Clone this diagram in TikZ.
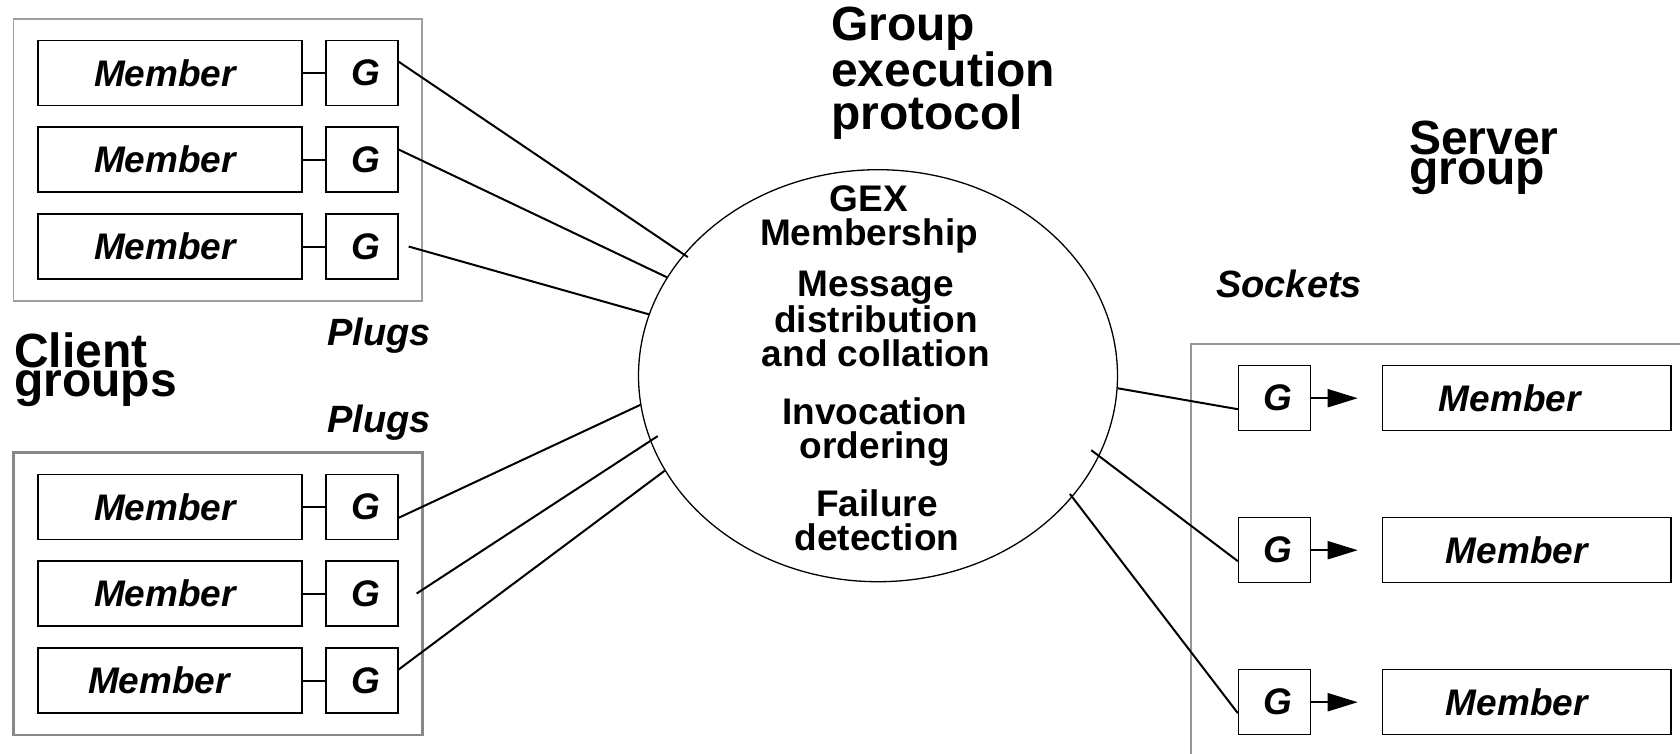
\documentclass[tikz,border=0pt]{standalone}
\usepackage{fontspec}
\setmainfont{Liberation Sans}
\usetikzlibrary{shapes.geometric,arrows.meta}

\tikzset{
  box/.style={draw, line width=1.3pt, inner sep=0pt, minimum height=65pt,
    font=\fontsize{37}{40}\selectfont\bfseries\itshape},
  member/.style={box, minimum width=264pt},
  gbox/.style={box, minimum width=72pt},
  wire/.style={line width=2pt},
  tip/.style={wire, -{Triangle[length=30pt,width=18pt]}, shorten >=24pt},
  title/.style={anchor=base west, inner sep=0pt, align=left},
  inside/.style={anchor=base, inner sep=0pt, align=center,
    font=\fontsize{37}{34}\selectfont\bfseries},
  tag/.style={anchor=base west, inner sep=0pt,
    font=\fontsize{38}{40}\selectfont\bfseries\itshape},
}

\begin{document}
\begin{tikzpicture}[x=1pt,y=-1pt]
\useasboundingbox (0,0) rectangle (1680,753);

%group frames
\draw [color={rgb,255:red,160;green,160;blue,160}, line width=1.3pt] (13.7,19) rectangle (422,301);
\draw [color={rgb,255:red,136;green,136;blue,136}, line width=2.5pt] (13.7,452.3) rectangle (422.7,735);
\draw [color={rgb,255:red,150;green,150;blue,150}, line width=1.2pt] (1700,344) -| (1191,770);

%the protocol (base anchor of a block = its last line)
\node [draw, ellipse, line width=1.3pt, inner sep=0pt, minimum width=479pt, minimum height=412pt] (gex) at (878,375.7) {};
\node [inside] (gexmem) at (869,245) {GEX\\Membership};
\node [inside] (gexmsg) at (876,366) {Message\\distribution\\and collation};
\node [inside] (gexinv) at (875,458) {Invocation\\ordering};
\node [inside] (gexfail) at (877,550) {Failure\\detection};

%client group, top
\node [member] (tm1) at (170,73.2) {Member\hspace*{10pt}};
\node [gbox] (tg1) at (362,73.2) {\hspace*{8pt}G};
\node [member] (tm2) at (170,159.5) {Member\hspace*{10pt}};
\node [gbox] (tg2) at (362,159.5) {\hspace*{8pt}G};
\node [member] (tm3) at (170,246.5) {Member\hspace*{10pt}};
\node [gbox] (tg3) at (362,246.5) {\hspace*{8pt}G};

%client group, bottom
\node [member] (bm1) at (170,506.8) {Member\hspace*{10pt}};
\node [gbox] (bg1) at (362,506.8) {\hspace*{8pt}G};
\node [member] (bm2) at (170,593.5) {Member\hspace*{10pt}};
\node [gbox] (bg2) at (362,593.5) {\hspace*{8pt}G};
\node [member] (bm3) at (170,680.5) {Member\hspace*{22pt}};
\node [gbox] (bg3) at (362,680.5) {\hspace*{8pt}G};

%server group
\node [gbox] (sg1) at (1274.5,398.2) {\hspace*{6pt}G};
\node [box, minimum width=288.7pt] (sm1) at (1526.7,398.2) {Member\hspace*{34pt}};
\node [gbox] (sg2) at (1274.5,550.2) {\hspace*{6pt}G};
\node [box, minimum width=288.7pt] (sm2) at (1526.7,550.2) {Member\hspace*{20pt}};
\node [gbox] (sg3) at (1274.5,702.2) {\hspace*{6pt}G};
\node [box, minimum width=288.7pt] (sm3) at (1526.7,702.2) {Member\hspace*{20pt}};

%member to plug
\draw [wire] (tm1) -- (tg1);
\draw [wire] (tm2) -- (tg2);
\draw [wire] (tm3) -- (tg3);
\draw [wire] (bm1) -- (bg1);
\draw [wire] (bm2) -- (bg2);
\draw [wire] (bm3) -- (bg3);

%socket to member
\draw [tip] (sg1) -- (sm1);
\draw [tip] (sg2) -- (sm2);
\draw [tip] (sg3) -- (sm3);

%plugs into the protocol
\draw [wire, shorten >=-5pt] ([yshift=11.5pt]tg1.east) -- (gex.148.3);
\draw [wire] ([yshift=10pt]tg2.east) -- (gex.155.8);
\draw [wire] ([xshift=10pt]tg3.east) -- (gex.165.8);
\draw [wire] ([yshift=-11pt]bg1.east) -- (gex.187.8);
\draw [wire, shorten >=-9pt] ([xshift=18pt]bg2.east) -- (gex.196.8);
\draw [wire] ([yshift=11pt]bg3.east) -- (gex.204.8);

%protocol to sockets
\draw [wire] (gex.357.1) -- ([yshift=-11pt]sg1.west);
\draw [wire, shorten <=-10pt] (gex.340.3) -- ([yshift=-11pt]sg2.west);
\draw [wire, shorten <=-4pt] (gex.328.3) -- ([yshift=-11pt]sg3.west);

%labels
\node [title, font=\fontsize{48}{42.5}\selectfont\bfseries] (gexttl) at (831,129) {Group\\execution\\protocol};
\node [title, font=\fontsize{48}{30}\selectfont\bfseries] (srvttl) at (1409,184) {Server\\group};
\node [title, font=\fontsize{48}{29}\selectfont\bfseries] (cltttl) at (14,396) {Client\\groups};
\node [tag] (plugs1) at (327,345) {Plugs};
\node [tag] (plugs2) at (327,432) {Plugs};
\node [tag] (sockets) at (1216,297) {Sockets};

\end{tikzpicture}
\end{document}
